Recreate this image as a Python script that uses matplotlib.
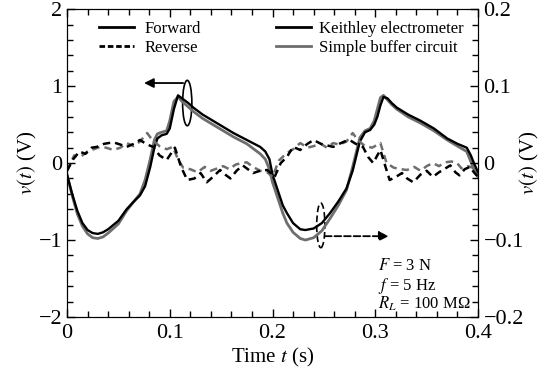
import matplotlib
matplotlib.use("Agg")
import matplotlib.pyplot as plt
from matplotlib.lines import Line2D
from matplotlib.patches import Ellipse
from matplotlib.ticker import MultipleLocator

plt.rcParams['font.family'] = ['Liberation Serif', 'DejaVu Serif']
plt.rcParams['mathtext.fontset'] = 'stix'

# ==========================
# DATA
# ==========================

# forward (solid) curves, left axis
t_fwd = [0, 0.005, 0.01, 0.015, 0.02, 0.025, 0.03, 0.035, 0.04, 0.05,
         0.058, 0.065, 0.071, 0.076, 0.081, 0.085, 0.088, 0.092, 0.097, 0.100,
         0.104, 0.108, 0.112, 0.118, 0.123, 0.132, 0.142, 0.152, 0.162, 0.175,
         0.188, 0.193, 0.197, 0.200, 0.205, 0.21, 0.214, 0.22, 0.227, 0.232,
         0.24, 0.248, 0.256, 0.264, 0.272, 0.278, 0.285, 0.290, 0.295, 0.299,
         0.302, 0.305, 0.308, 0.312, 0.316, 0.321, 0.332, 0.344, 0.357, 0.370,
         0.380, 0.389, 0.393, 0.396, 0.400]
keithley_fwd = [-0.15, -0.4, -0.62, -0.78, -0.87, -0.91, -0.92, -0.9, -0.86, -0.75,
                -0.6, -0.5, -0.42, -0.3, -0.05, 0.2, 0.32, 0.36, 0.38, 0.45,
                0.7, 0.88, 0.84, 0.78, 0.72, 0.63, 0.55, 0.47, 0.39, 0.3,
                0.21, 0.15, 0.05, -0.15, -0.35, -0.55, -0.65, -0.78, -0.86, -0.87,
                -0.85, -0.78, -0.65, -0.5, -0.33, -0.1, 0.28, 0.4, 0.43, 0.5,
                0.6, 0.75, 0.86, 0.84, 0.78, 0.72, 0.63, 0.55, 0.45, 0.32,
                0.25, 0.2, 0.1, 0.0, -0.12]
buffer_fwd = [-0.15, -0.42, -0.66, -0.82, -0.92, -0.97, -0.98, -0.96, -0.91, -0.79,
              -0.62, -0.5, -0.4, -0.22, 0.05, 0.3, 0.38, 0.4, 0.42, 0.55,
              0.8, 0.86, 0.8, 0.73, 0.67, 0.58, 0.5, 0.42, 0.34, 0.25,
              0.12, 0.05, -0.08, -0.25, -0.45, -0.65, -0.78, -0.9, -0.98, -1.0,
              -0.97, -0.88, -0.72, -0.55, -0.35, -0.05, 0.33, 0.42, 0.45, 0.55,
              0.7, 0.85, 0.88, 0.82, 0.76, 0.7, 0.6, 0.52, 0.42, 0.3,
              0.22, 0.15, 0.02, -0.08, -0.18]

# reverse (dashed) curves, right axis
t_rev_k = [0, 0.006, 0.012, 0.018, 0.024, 0.029, 0.036, 0.045, 0.052, 0.058,
           0.065, 0.071, 0.078, 0.084, 0.090, 0.097, 0.101, 0.105, 0.111, 0.117,
           0.124, 0.130, 0.136, 0.142, 0.149, 0.154, 0.159, 0.165, 0.171, 0.176,
           0.181, 0.188, 0.195, 0.202, 0.208, 0.214, 0.220, 0.227, 0.234, 0.240,
           0.247, 0.253, 0.259, 0.265, 0.270, 0.275, 0.281, 0.288, 0.293, 0.298,
           0.302, 0.305, 0.310, 0.314, 0.320, 0.326, 0.331, 0.337, 0.344, 0.350,
           0.356, 0.362, 0.367, 0.373, 0.378, 0.382, 0.387, 0.392, 0.396, 0.400]
keithley_rev = [-0.010, 0.005, 0.015, 0.012, 0.020, 0.021, 0.025, 0.027, 0.024, 0.021,
                0.025, 0.030, 0.024, 0.021, 0.010, 0.004, 0.012, 0.020, -0.005, -0.022,
                -0.020, -0.013, -0.025, -0.018, -0.009, -0.015, -0.020, -0.010, -0.003, -0.008,
                -0.013, -0.010, -0.009, -0.018, 0.000, 0.008, 0.021, 0.017, 0.025, 0.030,
                0.025, 0.023, 0.021, 0.025, 0.028, 0.030, 0.025, 0.021, 0.008, 0.000,
                0.010, 0.017, -0.005, -0.022, -0.018, -0.013, -0.020, -0.025, -0.015, -0.010,
                -0.018, -0.012, -0.008, -0.003, -0.012, -0.016, -0.008, -0.005, -0.012, -0.018]

t_rev_b = [0, 0.007, 0.013, 0.020, 0.026, 0.032, 0.038, 0.045, 0.052, 0.058,
           0.065, 0.071, 0.078, 0.083, 0.090, 0.097, 0.103, 0.108, 0.113, 0.120,
           0.127, 0.134, 0.140, 0.146, 0.152, 0.158, 0.164, 0.170, 0.175, 0.181,
           0.188, 0.195, 0.200, 0.206, 0.213, 0.220, 0.227, 0.234, 0.240, 0.247,
           0.253, 0.259, 0.265, 0.272, 0.278, 0.283, 0.290, 0.297, 0.305, 0.311,
           0.318, 0.325, 0.331, 0.338, 0.344, 0.350, 0.356, 0.362, 0.368, 0.374,
           0.379, 0.384, 0.390, 0.395, 0.400]
buffer_rev = [-0.010, 0.010, 0.008, 0.015, 0.018, 0.021, 0.020, 0.017, 0.020, 0.026,
              0.022, 0.028, 0.039, 0.030, 0.022, 0.018, 0.021, 0.005, -0.006, -0.008,
              -0.012, -0.005, -0.010, -0.007, -0.004, -0.008, -0.002, 0.000, 0.001, -0.005,
              -0.010, -0.012, -0.018, 0.003, 0.012, 0.018, 0.026, 0.020, 0.022, 0.025,
              0.020, 0.026, 0.024, 0.028, 0.039, 0.030, 0.022, 0.020, 0.026, 0.000,
              -0.006, -0.008, -0.009, -0.005, -0.010, -0.004, 0.000, -0.004, 0.001, 0.002,
              0.001, -0.007, -0.004, -0.006, -0.012]

K_COLOR = "black"
B_COLOR = "#6e6e6e"

# ==========================
# PLOT
# ==========================

fig = plt.figure(figsize=(5.48, 3.81), dpi=100)
ax = fig.add_axes([0.1223, 0.168, 0.75, 0.808])
ax2 = ax.twinx()

ax.plot(t_fwd, buffer_fwd, color=B_COLOR, lw=2.0)
ax.plot(t_fwd, keithley_fwd, color=K_COLOR, lw=1.7)
dash = (0, (3, 2))
ax2.plot(t_rev_b, buffer_rev, color=B_COLOR, lw=1.8, ls=dash)
ax2.plot(t_rev_k, keithley_rev, color=K_COLOR, lw=1.8, ls=dash)

ax.set_xlim(0, 0.4)
ax.set_ylim(-2, 2)
ax2.set_ylim(-0.2, 0.2)

ax.xaxis.set_minor_locator(MultipleLocator(0.02))
ax.yaxis.set_minor_locator(MultipleLocator(0.2))
ax2.yaxis.set_minor_locator(MultipleLocator(0.02))

ax.set_xticks([0, 0.1, 0.2, 0.3, 0.4])
ax.set_xticklabels(["0", "0.1", "0.2", "0.3", "0.4"])
ax.set_yticks([-2, -1, 0, 1, 2])
ax.set_yticklabels(["\u22122", "\u22121", "0", "1", "2"])
ax2.set_yticks([-0.2, -0.1, 0, 0.1, 0.2])
ax2.set_yticklabels(["\u22120.2", "\u22120.1", "0", "0.1", "0.2"])

ax.tick_params(which="both", direction="in", top=True, right=False, labelsize=16)
ax.tick_params(which="major", length=6, width=1)
ax.tick_params(which="minor", length=4, width=1)
ax2.tick_params(which="both", direction="in", labelsize=16, pad=4)
ax2.tick_params(which="major", length=6, width=1)
ax2.tick_params(which="minor", length=4, width=1)
ax.tick_params(axis="x", pad=5)

ax.set_xlabel("Time $t$ (s)", fontsize=15, labelpad=2)
ax.set_ylabel("$v(t)$ (V)", fontsize=15, labelpad=0)
ax2.set_ylabel("$v(t)$ (V)", fontsize=15, labelpad=-4)

# annotations
ax.add_patch(Ellipse((0.117, 0.78), 0.009, 0.59, fill=False, ec="black", lw=1.2))
ax.annotate("", xy=(0.075, 1.04), xytext=(0.113, 1.04),
            arrowprops=dict(arrowstyle="-|>", color="black", lw=1.3,
                            mutation_scale=14, shrinkA=0, shrinkB=0))
ax.add_patch(Ellipse((0.247, -0.81), 0.008, 0.58, fill=False, ec="black",
                     lw=1.2, ls=(0, (4, 2))))
ax.annotate("", xy=(0.313, -0.95), xytext=(0.251, -0.95),
            arrowprops=dict(arrowstyle="-|>", color="black", lw=1.3, ls="--",
                            mutation_scale=14, shrinkA=0, shrinkB=0))

ax.text(0.303, -1.34, "$F$ = 3 N", fontsize=12, va="center")
ax.text(0.303, -1.60, "$f$ = 5 Hz", fontsize=12, va="center")
ax.text(0.303, -1.83, "$R_L$ = 100 M\u03a9", fontsize=12, va="center")

# legends
style_handles = [Line2D([], [], color="black", lw=2),
                 Line2D([], [], color="black", lw=2, ls=(0, (2, 1)))]
leg1 = ax.legend(style_handles, ["Forward", "Reverse"], loc="upper left",
                 bbox_to_anchor=(0.05, 1.0), frameon=False, fontsize=12,
                 handlelength=2.1, handletextpad=0.6, labelspacing=0.2,
                 borderaxespad=0.3)
inst_handles = [Line2D([], [], color=K_COLOR, lw=2),
                Line2D([], [], color=B_COLOR, lw=2)]
leg2 = ax.legend(inst_handles, ["Keithley electrometer", "Simple buffer circuit"],
                 loc="upper left", bbox_to_anchor=(0.48, 1.0), frameon=False,
                 fontsize=12, handlelength=2.1, handletextpad=0.5,
                 labelspacing=0.2, borderaxespad=0.3)
ax.add_artist(leg1)

plt.savefig("out.png", dpi=100)
plt.close()
